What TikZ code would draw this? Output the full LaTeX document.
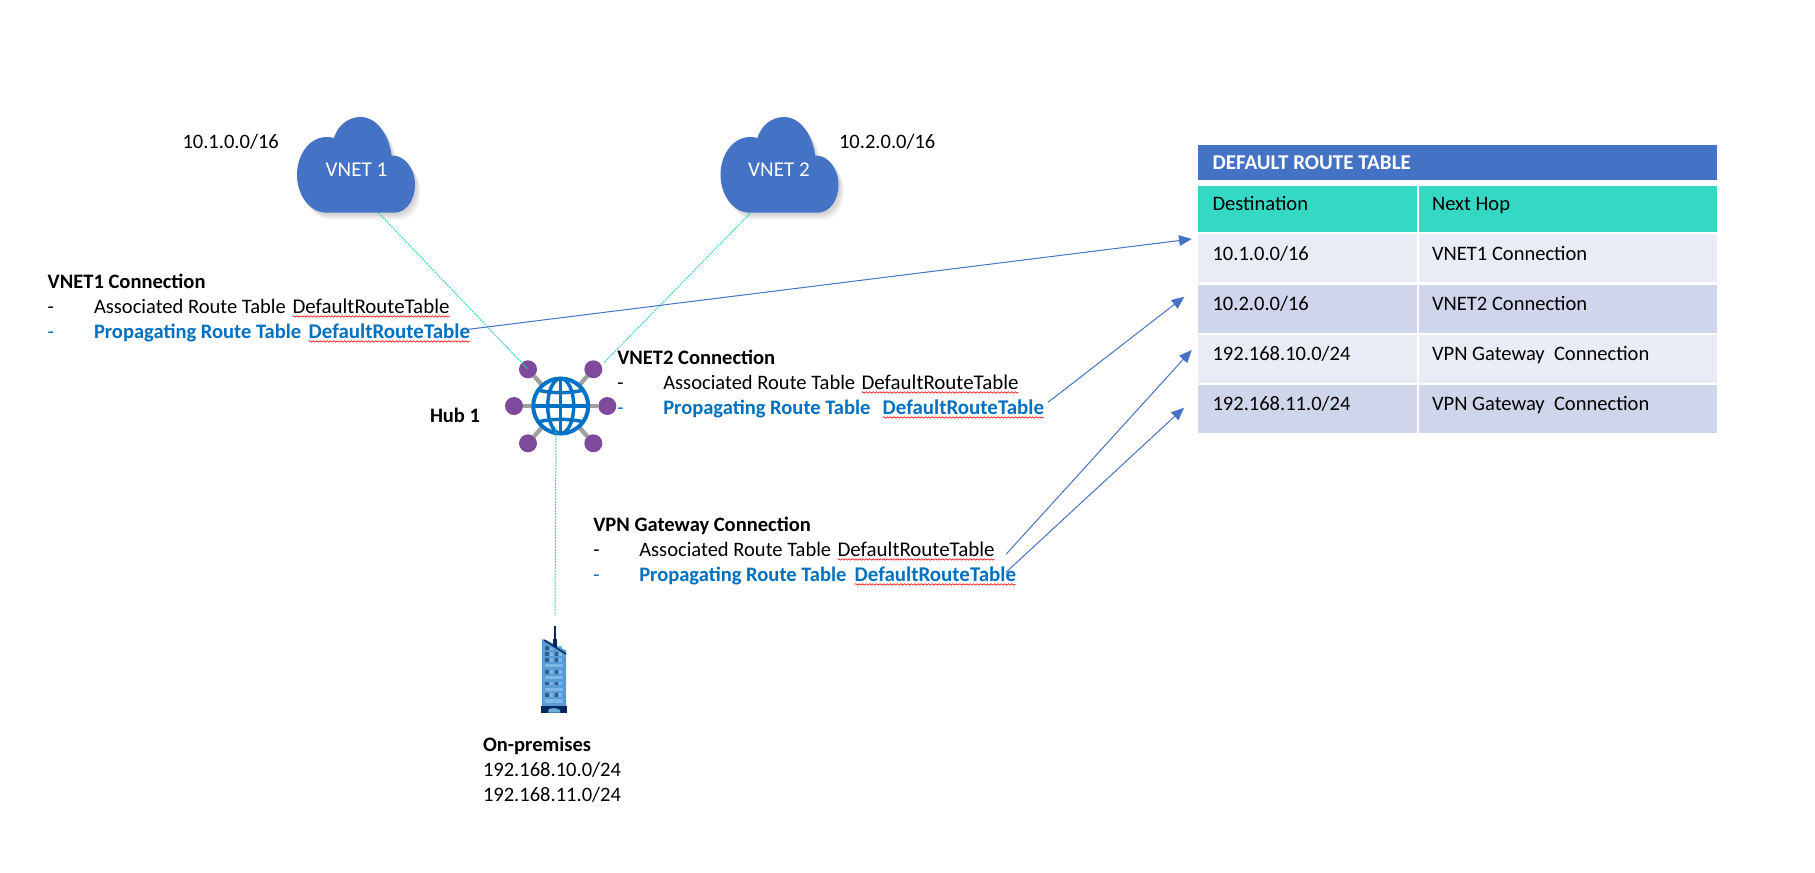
\documentclass[tikz,border=0pt]{standalone}
\usepackage{fontspec}
\setmainfont{Carlito}
\usetikzlibrary{arrows.meta,calc,decorations.pathmorphing}
\definecolor{cloudblue}{HTML}{4472C4}
\definecolor{tealhead}{HTML}{35D9C3}
\definecolor{rowa}{HTML}{E9EBF5}
\definecolor{rowb}{HTML}{CFD5EA}
\definecolor{propblue}{HTML}{0070C0}
\definecolor{globeblue}{HTML}{0072C6}
\definecolor{hubpurple}{HTML}{7F4A9C}
\definecolor{spokegray}{HTML}{A0A0A0}
\definecolor{tealline}{HTML}{35D9C3}
\definecolor{bldgbody}{HTML}{5A9BD4}
\definecolor{bldglight}{HTML}{7DB7E5}
\definecolor{bldgdark}{HTML}{2F5F8F}
\definecolor{bldgnavy}{HTML}{03295C}
\newcommand{\cloudpath}{(30,95.7) .. controls (11,95.7) and (0,76) .. (0,58) .. controls (0,38) and (12,20) .. (30,20) .. controls (33,20) and (35,20.5) .. (37,21) .. controls (40,10) and (50,0) .. (63.5,0) .. controls (80,0) and (92,18) .. (94.6,38.5) .. controls (108,38) and (118,52) .. (118,68) .. controls (118,82) and (110,95.7) .. (97,95.7) -- cycle}
\newcommand{\cloudshape}[2]{%
  \begin{scope}[shift={(#1,#2)}]
    \foreach \s in {8,6.5,5,3.5,2}{\fill[black,opacity=0.035,shift={(\s*0.7,\s*0.9)}] \cloudpath;}
    \fill[cloudblue] \cloudpath;
  \end{scope}}
\tikzset{
  x=0.75pt,y=-0.75pt,
  txt/.style={inner sep=0pt,outer sep=0pt,anchor=west,yshift=-2.1pt,font=\fontsize{15.4pt}{15.4pt}\selectfont,text height=.72em,text depth=.2em},
  boldtxt/.style={txt,font=\fontsize{15.4pt}{15.4pt}\selectfont\bfseries},
  proptxt/.style={boldtxt,text=propblue},
  wordtxt/.style={txt,anchor=east,font=\fontsize{15.7pt}{15.7pt}\selectfont},
  propword/.style={wordtxt,text=propblue,font=\fontsize{15.7pt}{15.7pt}\selectfont\bfseries},
  propdash/.style={txt,text=propblue},
  cell/.style={inner sep=0pt,outer sep=0pt,anchor=north west},
  tealconn/.style={tealline,line width=0.75pt,dash pattern=on 1.5pt off 0.75pt},
  routearrow/.style={cloudblue,line width=0.75pt,-{Triangle[length=9.5pt,width=8pt]}},
  squig/.style={red,line width=0.45pt,decorate,decoration={snake,amplitude=0.55pt,segment length=2.6pt}},
  sat/.style={circle,fill=hubpurple,minimum size=13.5pt,inner sep=0pt,outer sep=0pt},
  spoke/.style={spokegray,line width=3.2pt},
  globeline/.style={globeblue,line width=2.6pt},
  cloudlabel/.style={inner sep=0pt,text=white,font=\fontsize{15.8pt}{15.8pt}\selectfont},
  cloudbox/.style={inner sep=0pt,outer sep=0pt,minimum width=88.5pt,minimum height=72pt},
}
\begin{document}
\begin{tikzpicture}
\useasboundingbox (0,0) rectangle (1815,872);
\fill[white] (0,0) rectangle (1815,872);

% clouds
\cloudshape{297}{117}
\cloudshape{720.5}{117}
\node[cloudbox] (vnet1) at (356,165) {};
\node[cloudbox] (vnet2) at (779.5,165) {};
\node[cloudlabel] (vnet1t) at (356.5,169.5) {VNET 1};
\node[cloudlabel] (vnet2t) at (779,169.5) {VNET 2};
\node[txt] (addr1) at (182.5,142) {10.1.0.0/16};
\node[txt] (addr2) at (839,142) {10.2.0.0/16};

% hub
\node[circle,inner sep=0pt,outer sep=0pt,minimum size=44pt] (hub) at (560.7,406) {};
\node[sat] (s1) at (528,369.3) {};
\node[sat] (s2) at (593.3,369.3) {};
\node[sat] (s3) at (514,406) {};
\node[sat] (s4) at (607.3,406) {};
\node[sat] (s5) at (528,443.3) {};
\node[sat] (s6) at (593.3,443.3) {};
\foreach \n in {1,...,6}{\draw[spoke] (hub) -- (s\n);}
\fill[white] (hub) circle (27);
\draw[globeline,line width=3pt] (hub) circle (27.5);
\draw[globeline] (hub) ellipse (13 and 27.5);
\draw[globeline] ($(hub)+(0,-27.5)$) -- ($(hub)+(0,27.5)$);
\draw[globeline] ($(hub)+(-27.5,0)$) -- ($(hub)+(27.5,0)$);
\draw[globeline] ($(hub)+(-23,-16)$) .. controls ($(hub)+(-10,-12.5)$) and ($(hub)+(10,-12.5)$) .. ($(hub)+(23,-16)$);
\draw[globeline] ($(hub)+(-23,16)$) .. controls ($(hub)+(-10,12.5)$) and ($(hub)+(10,12.5)$) .. ($(hub)+(23,16)$);
\node[boldtxt] (hubt) at (430,416) {Hub 1};

% building
\node[inner sep=0pt,outer sep=0pt,minimum width=19.5pt,minimum height=65pt] (bldg) at (554,669) {};
\fill[bldgbody] (542,639.3) -- (547,640.5) -- (566,650.7) -- (566,706) -- (542,706) -- cycle;
\foreach \y in {665.7,677.3,689.3,701}{\fill[bldglight] (545,\y-1.7) rectangle (563,\y+1.7);}
\foreach \y in {648,654,660,672,683.5,695}{
  \fill[bldgdark] (545,\y-1.7) rectangle (548.5,\y+1.7);
  \fill[bldglight] (550,\y-1.7) rectangle (553,\y+1.7);
  \fill[bldgdark] (554.5,\y-1.7) rectangle (557.5,\y+1.7);
  \fill[bldglight] (559,\y-1.7) rectangle (562,\y+1.7);
}
\fill[bldgbody] (542,639.3) -- (547,640.5) -- (566,650.7) -- (566,655) -- (542,643) -- cycle;
\draw[bldgnavy,line width=1.1pt] (544,640) -- (566,654);
\fill[bldgnavy] (554,626) rectangle (556,640);
\fill[bldgnavy] (553.2,639) rectangle (556.8,647);
\fill[bldgnavy] (541,706) rectangle (567,712.7);
\fill[bldglight!60!bldgbody] (548.3,712.7) -- (548.3,710) .. controls (550,707.5) and (557,707.5) .. (560,710) -- (560,712.7) -- cycle;
\node[boldtxt] (onprem) at (483,745) {On-premises};
\node[txt] (onp1) at (483,770) {192.168.10.0/24};
\node[txt] (onp2) at (483,795) {192.168.11.0/24};

% teal connections
\draw[tealconn] ($(vnet1.south)+(22.7,0)$) -- (s1.center);
\draw[tealconn] ($(vnet2.south)+(-29,0)$) -- ($(s2)+(10.3,-6.3)$);
\draw[tealconn] ($(hub)+(-4.7,20)$) -- ($(bldg.north)+(1,-10)$);

% VNET1 Connection
\node[boldtxt] (c1h) at (47.7,282) {VNET1 Connection};
\node[txt] (c1d1) at (47.7,307) {-};
\node[txt] (c1a) at (94,307) {Associated Route Table};
\node[wordtxt] (c1w1) at (449.5,307) {DefaultRouteTable};
\node[propdash] (c1d2) at (47.7,332) {-};
\node[proptxt] (c1p) at (94,332) {Propagating Route Table};
\node[propword] (c1w2) at (470,332) {DefaultRouteTable};
\draw[squig] ($(c1w1.south west)+(0,0.5)$) -- ($(c1w1.south east)+(0,0.5)$);
\draw[squig] ($(c1w2.south west)+(0,0.5)$) -- ($(c1w2.south east)+(0,0.5)$);

% VNET2 Connection
\node[boldtxt] (c2h) at (617.3,358) {VNET2 Connection};
\node[txt] (c2d1) at (617.3,383) {-};
\node[txt] (c2a) at (663.3,383) {Associated Route Table};
\node[wordtxt] (c2w1) at (1018.5,383) {DefaultRouteTable};
\node[propdash] (c2d2) at (617.3,408) {-};
\node[proptxt] (c2p) at (663.3,408) {Propagating Route Table};
\node[propword] (c2w2) at (1044,408) {DefaultRouteTable};
\draw[squig] ($(c2w1.south west)+(0,0.5)$) -- ($(c2w1.south east)+(0,0.5)$);
\draw[squig] ($(c2w2.south west)+(0,0.5)$) -- ($(c2w2.south east)+(0,0.5)$);

% VPN Gateway Connection
\node[boldtxt] (c3h) at (593.3,525) {VPN Gateway Connection};
\node[txt] (c3d1) at (593.3,550) {-};
\node[txt] (c3a) at (639.3,550) {Associated Route Table};
\node[wordtxt] (c3w1) at (994.5,550) {DefaultRouteTable};
\node[propdash] (c3d2) at (593.3,575) {-};
\node[proptxt] (c3p) at (639.3,575) {Propagating Route Table};
\node[propword] (c3w2) at (1016,575) {DefaultRouteTable};
\draw[squig] ($(c3w1.south west)+(0,0.5)$) -- ($(c3w1.south east)+(0,0.5)$);
\draw[squig] ($(c3w2.south west)+(0,0.5)$) -- ($(c3w2.south east)+(0,0.5)$);

% table
\node[cell,fill=cloudblue,minimum width=389.25pt,minimum height=26.7pt] (title) at (1198,144.5) {};
\node[boldtxt,text=white,font=\fontsize{15.8pt}{15.8pt}\selectfont\bfseries] (titlet) at (1212.5,163.5) {DEFAULT ROUTE TABLE};
\node[cell,fill=tealhead,minimum width=164.25pt,minimum height=34.5pt] (h1) at (1198,186) {};
\node[cell,fill=tealhead,minimum width=223.5pt,minimum height=34.5pt] (h2) at (1419,186) {};
\node[txt] at (1212.5,204) (h1t) {Destination};
\node[txt] at (1432,204) (h2t) {Next Hop};
\node[cell,fill=rowa,minimum width=164.25pt,minimum height=36pt] (r1a) at (1198,234) {};
\node[cell,fill=rowa,minimum width=223.5pt,minimum height=36pt] (r1b) at (1419,234) {};
\node[cell,fill=rowb,minimum width=164.25pt,minimum height=36pt] (r2a) at (1198,284.5) {};
\node[cell,fill=rowb,minimum width=223.5pt,minimum height=36pt] (r2b) at (1419,284.5) {};
\node[cell,fill=rowa,minimum width=164.25pt,minimum height=36pt] (r3a) at (1198,334.5) {};
\node[cell,fill=rowa,minimum width=223.5pt,minimum height=36pt] (r3b) at (1419,334.5) {};
\node[cell,fill=rowb,minimum width=164.25pt,minimum height=36pt] (r4a) at (1198,385) {};
\node[cell,fill=rowb,minimum width=223.5pt,minimum height=36pt] (r4b) at (1419,385) {};
\node[txt] at (1212.5,254) (r1at) {10.1.0.0/16};
\node[txt] at (1432,254) (r1bt) {VNET1 Connection};
\node[txt] at (1212.5,304) (r2at) {10.2.0.0/16};
\node[txt] at (1432,304) (r2bt) {VNET2 Connection};
\node[txt] at (1212.5,354) (r3at) {192.168.10.0/24};
\node[txt] at (1432,354) (r3bt) {VPN Gateway\ \ Connection};
\node[txt] at (1212.5,404) (r4at) {192.168.11.0/24};
\node[txt] at (1432,404) (r4bt) {VPN Gateway\ \ Connection};

% route arrows
\draw[routearrow] ($(c1w2.east)+(-1.5,-5.5)$) -- ($(r1a.west)+(-6.3,-19)$);
\draw[routearrow] ($(c2w2.east)+(4,-8.5)$) -- ($(r2a.west)+(-13.7,-11.8)$);
\draw[routearrow] ($(c3w1.east)+(11.5,1.5)$) -- ($(r3a.west)+(-6.3,-8.5)$);
\draw[routearrow] ($(c3w2.east)+(-10,-5.5)$) -- ($(r4a.west)+(-14,-1.3)$);
\end{tikzpicture}
\end{document}
